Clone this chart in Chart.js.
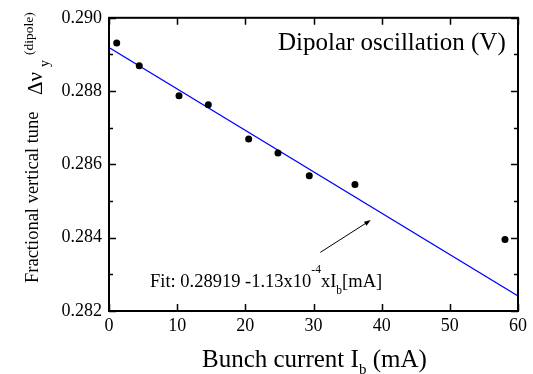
<!DOCTYPE html>
<html>
<head>
<meta charset="utf-8">
<script src="https://cdn.jsdelivr.net/npm/chart.js@4.4.0/dist/chart.umd.min.js"></script>
<style>
  html, body { margin: 0; padding: 0; background: #fff; }
  #wrap { width: 533px; height: 374px; }
</style>
</head>
<body>
<div id="wrap"><canvas id="tune-chart" width="533" height="374"></canvas></div>
<script>
// measured tune shift vs bunch current
const currentMA = [1.13, 4.44, 10.27, 14.57, 20.49, 24.79, 29.38, 36.08, 58.09];
const tuneShift = [0.28931, 0.28869, 0.28787, 0.28763, 0.28669, 0.28631, 0.28569, 0.28545, 0.28395];

// linear fit endpoints
const fitX = [0, 60];
const fitY = [0.28919, 0.28241];

const xTicks = [0, 10, 20, 30, 40, 50, 60];
const yTicks = [0.282, 0.284, 0.286, 0.288, 0.290];
const yMinorTicks = [0.283, 0.285, 0.287, 0.289];

// arrow pointing at the fit line (data coords)
const arrowFrom = { x: 31.0, y: 0.2836 };
const arrowTo = { x: 38.4, y: 0.28448 };

const SERIF = "'Liberation Serif', serif";

function font(size) {
  return size + "px " + SERIF;
}

// draw text pieces one after another (for sub/superscripts)
function drawRuns(ctx, x, runs) {
  let pos = x;
  runs.forEach((r) => {
    ctx.font = font(r.size);
    ctx.fillText(r.t, pos, r.y);
    pos += ctx.measureText(r.t).width;
  });
}

const framePlugin = {
  id: "frame",
  afterDraw(chart) {
    const ctx = chart.ctx;
    const a = chart.chartArea;
    const xs = chart.scales.x;
    const ys = chart.scales.y;

    ctx.save();
    ctx.strokeStyle = "#000";
    ctx.fillStyle = "#000";

    // box
    ctx.lineWidth = 2;
    ctx.strokeRect(a.left, a.top, a.right - a.left, a.bottom - a.top);

    // inward ticks
    ctx.lineWidth = 1.5;
    ctx.beginPath();
    xTicks.forEach((v) => {
      const px = Math.round(xs.getPixelForValue(v)) + 0.5;
      ctx.moveTo(px, a.bottom); ctx.lineTo(px, a.bottom - 7);
      ctx.moveTo(px, a.top); ctx.lineTo(px, a.top + 7);
    });
    yTicks.forEach((v) => {
      const py = Math.round(ys.getPixelForValue(v)) + 0.5;
      ctx.moveTo(a.left, py); ctx.lineTo(a.left + 7, py);
      ctx.moveTo(a.right, py); ctx.lineTo(a.right - 7, py);
    });
    yMinorTicks.forEach((v) => {
      const py = Math.round(ys.getPixelForValue(v)) + 0.5;
      ctx.moveTo(a.left, py); ctx.lineTo(a.left + 4, py);
      ctx.moveTo(a.right, py); ctx.lineTo(a.right - 4, py);
    });
    ctx.stroke();

    // arrow
    const x0 = xs.getPixelForValue(arrowFrom.x), y0 = ys.getPixelForValue(arrowFrom.y);
    const x1 = xs.getPixelForValue(arrowTo.x), y1 = ys.getPixelForValue(arrowTo.y);
    const ang = Math.atan2(y1 - y0, x1 - x0);
    ctx.lineWidth = 1;
    ctx.beginPath();
    ctx.moveTo(x0, y0);
    ctx.lineTo(x1 - 4 * Math.cos(ang), y1 - 4 * Math.sin(ang));
    ctx.stroke();
    ctx.beginPath();
    ctx.moveTo(x1, y1);
    ctx.lineTo(x1 - 7 * Math.cos(ang - 0.35), y1 - 7 * Math.sin(ang - 0.35));
    ctx.lineTo(x1 - 7 * Math.cos(ang + 0.35), y1 - 7 * Math.sin(ang + 0.35));
    ctx.closePath();
    ctx.fill();

    ctx.textAlign = "left";
    ctx.textBaseline = "alphabetic";

    // panel label
    ctx.font = font(25);
    ctx.fillText("Dipolar oscillation (V)", 278, 50);

    // fit label
    drawRuns(ctx, 150, [
      { t: "Fit: 0.28919 -1.13x10", size: 18.5, y: 287 },
      { t: "-4", size: 11.5, y: 273 },
      { t: "xI", size: 18.5, y: 287 },
      { t: "b", size: 11.5, y: 294 },
      { t: "[mA]", size: 18.5, y: 287 },
    ]);

    // x axis title
    drawRuns(ctx, 202, [
      { t: "Bunch current I", size: 25, y: 367 },
      { t: "b", size: 15, y: 374 },
      { t: " (mA)", size: 25, y: 367 },
    ]);

    // y axis title (rotated)
    ctx.translate(38, 283);
    ctx.rotate(-Math.PI / 2);
    ctx.font = font(18.5);
    ctx.fillText("Fractional vertical tune", 0, 0);
    ctx.font = font(21);
    ctx.fillText("\u0394\u03bd", 188, 4);
    ctx.font = font(14);
    ctx.fillText("y", 216, 11);
    ctx.font = font(13.5);
    ctx.fillText("(dipole)", 228, -5);

    ctx.restore();
  },
};

function build() {
  new Chart(document.getElementById("tune-chart"), {
    type: "scatter",
    data: {
      datasets: [
        {
          label: "Measured",
          data: currentMA.map((x, i) => ({ x, y: tuneShift[i] })),
          backgroundColor: "#000",
          borderWidth: 0,
          pointRadius: 3.5,
          pointHoverRadius: 3.5,
        },
        {
          label: "Fit",
          data: fitX.map((x, i) => ({ x, y: fitY[i] })),
          showLine: true,
          borderColor: "#0000ff",
          borderWidth: 1.2,
          pointRadius: 0,
        },
      ],
    },
    options: {
      responsive: false,
      animation: false,
      events: [],
      layout: { padding: { left: 0, top: 10, right: 15, bottom: 0 } },
      plugins: {
        legend: { display: false },
        tooltip: { enabled: false },
      },
      scales: {
        x: {
          type: "linear",
          min: 0,
          max: 60,
          grid: { display: false, drawTicks: false },
          border: { display: false },
          afterBuildTicks: (s) => { s.ticks = xTicks.map((v) => ({ value: v })); },
          afterFit: (s) => { s.height = 63; },
          ticks: {
            color: "#000",
            padding: 4,
            maxRotation: 0,
            autoSkip: false,
            font: { family: SERIF, size: 18 },
          },
        },
        y: {
          type: "linear",
          min: 0.282,
          max: 0.290,
          grid: { display: false, drawTicks: false },
          border: { display: false },
          afterBuildTicks: (s) => { s.ticks = yTicks.map((v) => ({ value: v })); },
          afterFit: (s) => { s.width = 109; },
          ticks: {
            color: "#000",
            padding: 7,
            autoSkip: false,
            font: { family: SERIF, size: 18 },
            callback: (v) => Number(v).toFixed(3),
          },
        },
      },
    },
    plugins: [framePlugin],
  });
}

Promise.all([
  document.fonts.load(font(18)),
  document.fonts.load(font(25)),
]).then(build, build);
</script>
</body>
</html>
